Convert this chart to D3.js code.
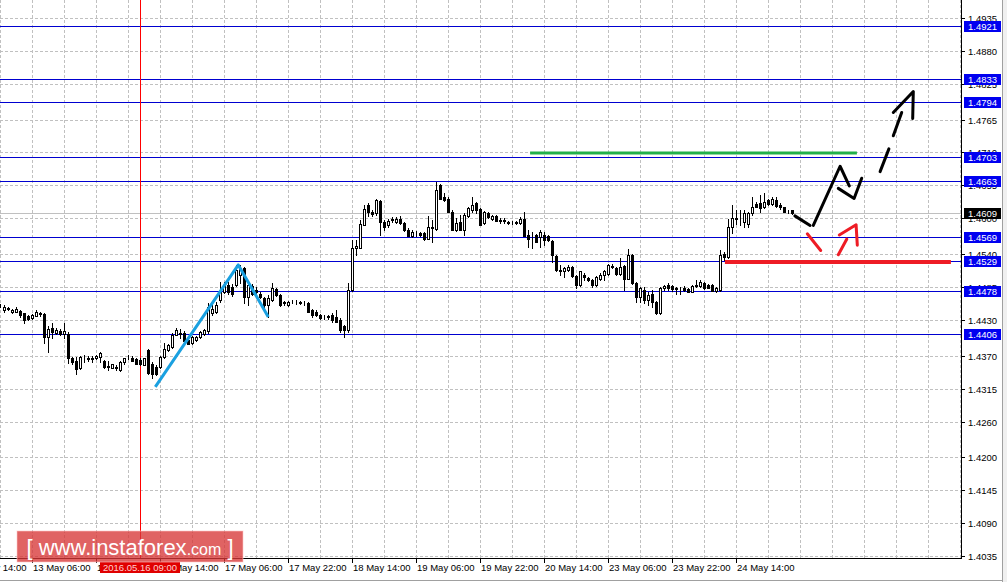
<!DOCTYPE html>
<html><head><meta charset="utf-8">
<script src="https://cdn.jsdelivr.net/npm/d3@7"></script>
<style>html,body{margin:0;padding:0;background:#fff;overflow:hidden}svg{display:block}</style>
</head><body><svg id="c" width="1007" height="582"></svg>
<script>
// ---- DATA (H1 candles, bar index 0 = 12 May 22:00) ----
const opens = [1.4454,1.4447,1.4448,1.4443,1.4444,1.4445,1.4441,1.4436,1.4433,1.4437,1.4440,1.4440,1.4402,1.4417,1.4408,1.4412,1.4407,1.4406,1.4367,1.4362,1.4350,1.4365,1.4365,1.4366,1.4366,1.4368,1.4361,1.4353,1.4350,1.4351,1.4346,1.4359,1.4368,1.4367,1.4364,1.4363,1.4355,1.4380,1.4357,1.4352,1.4352,1.4368,1.4380,1.4385,1.4405,1.4408,1.4408,1.4397,1.4391,1.4396,1.4402,1.4407,1.4411,1.4441,1.4444,1.4463,1.4477,1.4488,1.4485,1.4488,1.4505,1.4516,1.4469,1.4486,1.4480,1.4474,1.4466,1.4455,1.4463,1.4481,1.4472,1.4459,1.4455,1.4461,1.4460,1.4460,1.4458,1.4458,1.4447,1.4444,1.4438,1.4435,1.4435,1.4438,1.4435,1.4430,1.4419,1.4413,1.4480,1.4550,1.4550,1.4589,1.4622,1.4611,1.4608,1.4629,1.4593,1.4588,1.4597,1.4594,1.4599,1.4592,1.4581,1.4571,1.4575,1.4575,1.4575,1.4566,1.4583,1.4582,1.4655,1.4636,1.4633,1.4611,1.4580,1.4594,1.4580,1.4603,1.4614,1.4625,1.4615,1.4592,1.4609,1.4599,1.4603,1.4596,1.4597,1.4594,1.4593,1.4594,1.4592,1.4598,1.4572,1.4569,1.4572,1.4569,1.4572,1.4570,1.4562,1.4537,1.4511,1.4511,1.4513,1.4519,1.4503,1.4488,1.4505,1.4500,1.4497,1.4488,1.4499,1.4505,1.4507,1.4519,1.4517,1.4506,1.4520,1.4499,1.4538,1.4491,1.4469,1.4480,1.4463,1.4473,1.4460,1.4442,1.4483,1.4488,1.4487,1.4483,1.4482,1.4484,1.4482,1.4477,1.4488,1.4487,1.4491,1.4488,1.4488,1.4479,1.4480,1.4540,1.4535,1.4585,1.4598,1.4601,1.4594,1.4591,1.4608,1.4624,1.4625,1.4619,1.4630,1.4624,1.4631,1.4622,1.4618,1.4613,1.4613];
const highs = [1.4456,1.4455,1.4452,1.4448,1.4452,1.4447,1.4442,1.4438,1.4440,1.4446,1.4444,1.4441,1.4419,1.4424,1.4416,1.4414,1.4424,1.4410,1.4368,1.4368,1.4370,1.4371,1.4369,1.4370,1.4371,1.4377,1.4363,1.4362,1.4357,1.4355,1.4361,1.4367,1.4371,1.4369,1.4366,1.4366,1.4367,1.4382,1.4360,1.4355,1.4370,1.4391,1.4390,1.4408,1.4416,1.4415,1.4411,1.4398,1.4403,1.4403,1.4412,1.4415,1.4458,1.4455,1.4460,1.4494,1.4493,1.4494,1.4490,1.4522,1.4522,1.4518,1.4494,1.4490,1.4485,1.4477,1.4468,1.4472,1.4491,1.4483,1.4474,1.4462,1.4462,1.4464,1.4463,1.4462,1.4461,1.4460,1.4449,1.4446,1.4440,1.4438,1.4438,1.4441,1.4447,1.4433,1.4421,1.4491,1.4564,1.4564,1.4597,1.4622,1.4625,1.4613,1.4633,1.4630,1.4597,1.4598,1.4602,1.4602,1.4604,1.4594,1.4583,1.4580,1.4578,1.4577,1.4577,1.4603,1.4597,1.4661,1.4658,1.4643,1.4636,1.4614,1.4600,1.4605,1.4608,1.4619,1.4636,1.4628,1.4617,1.4612,1.4611,1.4606,1.4605,1.4600,1.4600,1.4596,1.4595,1.4596,1.4602,1.4611,1.4581,1.4577,1.4574,1.4580,1.4577,1.4572,1.4564,1.4538,1.4522,1.4519,1.4522,1.4520,1.4505,1.4512,1.4508,1.4502,1.4499,1.4503,1.4508,1.4513,1.4523,1.4523,1.4519,1.4533,1.4522,1.4548,1.4540,1.4493,1.4485,1.4485,1.4477,1.4480,1.4462,1.4485,1.4488,1.4491,1.4489,1.4485,1.4485,1.4486,1.4484,1.4488,1.4497,1.4497,1.4493,1.4490,1.4490,1.4485,1.4547,1.4544,1.4599,1.4622,1.4614,1.4613,1.4614,1.4611,1.4636,1.4628,1.4639,1.4642,1.4632,1.4636,1.4635,1.4625,1.4619,1.4614,1.4614];
const lows = [1.4452,1.4444,1.4446,1.4442,1.4443,1.4435,1.4424,1.4429,1.4432,1.4436,1.4436,1.4391,1.4377,1.4399,1.4406,1.4404,1.4399,1.4358,1.4357,1.4340,1.4348,1.4360,1.4361,1.4360,1.4364,1.4360,1.4350,1.4346,1.4349,1.4346,1.4345,1.4357,1.4365,1.4361,1.4356,1.4355,1.4354,1.4340,1.4332,1.4338,1.4350,1.4366,1.4378,1.4383,1.4404,1.4400,1.4393,1.4389,1.4389,1.4394,1.4400,1.4405,1.4408,1.4438,1.4442,1.4460,1.4475,1.4474,1.4470,1.4486,1.4491,1.4458,1.4455,1.4472,1.4474,1.4466,1.4452,1.4435,1.4462,1.4470,1.4453,1.4455,1.4453,1.4458,1.4457,1.4457,1.4455,1.4443,1.4435,1.4437,1.4432,1.4432,1.4432,1.4427,1.4427,1.4410,1.4402,1.4410,1.4478,1.4539,1.4550,1.4589,1.4603,1.4604,1.4605,1.4572,1.4580,1.4585,1.4594,1.4592,1.4591,1.4578,1.4570,1.4569,1.4570,1.4571,1.4564,1.4565,1.4561,1.4581,1.4632,1.4629,1.4611,1.4580,1.4578,1.4580,1.4572,1.4602,1.4611,1.4608,1.4589,1.4590,1.4601,1.4597,1.4596,1.4592,1.4592,1.4591,1.4591,1.4590,1.4590,1.4570,1.4552,1.4550,1.4561,1.4552,1.4555,1.4562,1.4527,1.4511,1.4505,1.4502,1.4511,1.4502,1.4483,1.4487,1.4497,1.4495,1.4485,1.4487,1.4497,1.4497,1.4505,1.4516,1.4505,1.4505,1.4480,1.4498,1.4490,1.4460,1.4460,1.4458,1.4455,1.4452,1.4440,1.4440,1.4480,1.4480,1.4479,1.4473,1.4473,1.4479,1.4476,1.4476,1.4485,1.4485,1.4482,1.4483,1.4478,1.4477,1.4478,1.4530,1.4533,1.4576,1.4591,1.4589,1.4586,1.4586,1.4605,1.4619,1.4611,1.4617,1.4623,1.4622,1.4619,1.4616,1.4611,1.4609,1.4607];
const closes = [1.4454,1.4452,1.4450,1.4447,1.4449,1.4438,1.4430,1.4431,1.4438,1.4444,1.4441,1.4402,1.4415,1.4409,1.4413,1.4406,1.4411,1.4366,1.4359,1.4348,1.4368,1.4364,1.4366,1.4364,1.4370,1.4375,1.4352,1.4352,1.4356,1.4350,1.4360,1.4366,1.4368,1.4362,1.4357,1.4356,1.4366,1.4341,1.4340,1.4340,1.4368,1.4382,1.4388,1.4405,1.4413,1.4407,1.4394,1.4390,1.4402,1.4402,1.4410,1.4413,1.4452,1.4449,1.4455,1.4477,1.4488,1.4477,1.4474,1.4513,1.4516,1.4469,1.4488,1.4474,1.4477,1.4469,1.4455,1.4466,1.4483,1.4472,1.4455,1.4460,1.4460,1.4462,1.4460,1.4458,1.4458,1.4444,1.4438,1.4438,1.4433,1.4435,1.4436,1.4430,1.4427,1.4413,1.4413,1.4480,1.4550,1.4553,1.4591,1.4615,1.4611,1.4607,1.4630,1.4593,1.4586,1.4596,1.4598,1.4598,1.4592,1.4580,1.4571,1.4577,1.4576,1.4572,1.4565,1.4585,1.4585,1.4647,1.4633,1.4631,1.4611,1.4580,1.4592,1.4580,1.4605,1.4617,1.4622,1.4614,1.4589,1.4611,1.4602,1.4604,1.4596,1.4597,1.4596,1.4592,1.4593,1.4592,1.4599,1.4570,1.4566,1.4568,1.4561,1.4577,1.4564,1.4564,1.4538,1.4513,1.4514,1.4516,1.4519,1.4503,1.4488,1.4511,1.4502,1.4497,1.4488,1.4502,1.4505,1.4511,1.4522,1.4520,1.4506,1.4519,1.4499,1.4538,1.4491,1.4469,1.4483,1.4463,1.4472,1.4460,1.4442,1.4483,1.4487,1.4483,1.4481,1.4482,1.4481,1.4480,1.4477,1.4487,1.4487,1.4494,1.4483,1.4484,1.4479,1.4484,1.4538,1.4535,1.4585,1.4600,1.4601,1.4600,1.4608,1.4608,1.4619,1.4619,1.4617,1.4628,1.4624,1.4633,1.4620,1.4618,1.4611,1.4613,1.4609];

const yTickLabels = ["1.4935","1.4880","1.4825","1.4765","1.4710","1.4655","1.4600","1.4540","1.4485","1.4430","1.4370","1.4315","1.4260","1.4200","1.4145","1.4090","1.4035"];
const xTickBars = [-8,8,24,40,56,72,88,104,120,136,152,168,184];
const xTickLabels = ["12 May 14:00","13 May 06:00","13 May 22:00","16 May 14:00","17 May 06:00","17 May 22:00","18 May 14:00","19 May 06:00","19 May 22:00","20 May 14:00","23 May 06:00","23 May 22:00","24 May 14:00"];
const levelValues = [1.4921,1.4833,1.4794,1.4703,1.4663,1.4569,1.4529,1.4478,1.4406];
const bidPrice = 1.4609;
const crossBar = 35, crossLabel = "2016.05.16 09:00";

// hand-drawn analysis lines, in [bar, price]
const blueTrend = [[38.9,1.4318],[59.65,1.4522],[67.15,1.4435]];
const greenLevel = [[132.6,1.4709],[214.3,1.4709]];
const redLevel = [[181.3,1.4527],[237.8,1.4527]];
const blackStrokes = [
  [[198.8,1.4604],[202.6,1.4588]],
  [[203.4,1.4588],[210.1,1.4687],[212.4,1.4654]],
  [[209.65,1.4650],[213.6,1.4633],[215.5,1.4667]],
  [[220.1,1.4678],[222.3,1.4716]],
  [[223.4,1.4738],[225.5,1.4777]],
  [[223.4,1.4777],[228.4,1.4812],[228.25,1.4767]]
];
const redStrokes = [
  [[201.9,1.4574],[205.25,1.4546]],
  [[209.65,1.4539],[211.75,1.4565]],
  [[209.9,1.4572],[214.1,1.4589],[214.4,1.4555]]
];

// ---- DRAW ----
const W = 1007, H = 582, plotR = 961, plotB = 558;
const svg = d3.select("#c");
const FONT = "'Liberation Sans', Arial, sans-serif";
svg.append("rect").attr("width",W).attr("height",H).attr("fill","#fff");

const x = d3.scaleLinear().domain([0,240]).range([-0.3,959.7]);
const y = d3.scaleLinear().domain([1.4035,1.4935]).range([556,18]);
const px = v => Math.round(x(v));
const py = v => Math.round(y(v));

const plot = svg.append("g");
plot.append("clipPath").attr("id","clip").append("rect").attr("x",0).attr("y",0).attr("width",plotR).attr("height",plotB);
const g = plot.append("g").attr("clip-path","url(#clip)");

// grid
const gridBars = d3.range(0,241,8);
g.selectAll(".vg").data(gridBars).enter().append("line")
  .attr("x1",d=>px(d)+0.5).attr("x2",d=>px(d)+0.5).attr("y1",0).attr("y2",plotB)
  .attr("stroke","#c0c0c0").attr("stroke-dasharray","3,2");
g.selectAll(".hg").data(yTickLabels).enter().append("line")
  .attr("x1",0).attr("x2",plotR).attr("y1",d=>py(+d)+0.5).attr("y2",d=>py(+d)+0.5)
  .attr("stroke","#c0c0c0").attr("stroke-dasharray","3,2");

// bid line
g.append("line").attr("x1",0).attr("x2",plotR).attr("y1",py(bidPrice)+0.5).attr("y2",py(bidPrice)+0.5)
  .attr("stroke","#c0c0c0");
// levels
g.selectAll(".lv").data(levelValues).enter().append("line")
  .attr("x1",0).attr("x2",plotR).attr("y1",d=>py(d)+0.5).attr("y2",d=>py(d)+0.5)
  .attr("stroke","#0000d0");

// crosshair
g.append("line").attr("x1",px(crossBar)+0.5).attr("x2",px(crossBar)+0.5).attr("y1",0).attr("y2",plotB)
  .attr("stroke","#ff0000");

// candles
const idx = d3.range(opens.length);
const cg = g.append("g");
cg.selectAll(".wk").data(idx).enter().append("line")
  .attr("x1",i=>px(i)+0.5).attr("x2",i=>px(i)+0.5)
  .attr("y1",i=>py(highs[i])).attr("y2",i=>py(lows[i])+1)
  .attr("stroke","#000");
cg.selectAll(".bd").data(idx).enter().append("rect")
  .attr("x",i=>px(i)-0.5)
  .attr("y",i=>py(Math.max(opens[i],closes[i]))+0.5)
  .attr("width",2)
  .attr("height",i=>Math.max(0,py(Math.min(opens[i],closes[i]))-py(Math.max(opens[i],closes[i]))))
  .attr("fill",i=>closes[i]>=opens[i]?"#fff":"#000")
  .attr("stroke","#000").attr("stroke-width",1);

// drawings
const line = d3.line().x(d=>x(d[0])).y(d=>y(d[1]));
g.append("path").attr("d",line(blueTrend)).attr("fill","none").attr("stroke","#1aa0e0").attr("stroke-width",3).attr("stroke-linejoin","round");
g.append("path").attr("d",line(greenLevel)).attr("fill","none").attr("stroke","#22b04a").attr("stroke-width",3);
g.append("path").attr("d",line(redLevel)).attr("fill","none").attr("stroke","#ee1c25").attr("stroke-width",4);
blackStrokes.forEach(s=>g.append("path").attr("d",line(s)).attr("fill","none").attr("stroke","#000").attr("stroke-width",3).attr("stroke-linejoin","round").attr("stroke-linecap","round"));
redStrokes.forEach(s=>g.append("path").attr("d",line(s)).attr("fill","none").attr("stroke","#ee1c25").attr("stroke-width",3).attr("stroke-linejoin","round").attr("stroke-linecap","round"));

// axes frame
svg.append("line").attr("x1",plotR+0.5).attr("x2",plotR+0.5).attr("y1",0).attr("y2",plotB+1).attr("stroke","#000");
svg.append("line").attr("x1",0).attr("x2",plotR+1).attr("y1",plotB+0.5).attr("y2",plotB+0.5).attr("stroke","#000");

// y ticks
svg.selectAll(".yt").data(yTickLabels).enter().append("line")
  .attr("x1",plotR).attr("x2",plotR+4).attr("y1",d=>py(+d)+0.5).attr("y2",d=>py(+d)+0.5).attr("stroke","#000");
svg.selectAll(".yl").data(yTickLabels).enter().append("text")
  .attr("x",968).attr("y",d=>py(+d)+4).text(d=>d)
  .attr("font-family",FONT).attr("font-size","9.5px").attr("fill","#000");

// level labels
const lab = svg.selectAll(".lb").data(levelValues).enter().append("g");
lab.append("rect").attr("x",964).attr("y",d=>py(d)-5).attr("width",37).attr("height",11).attr("fill","#0000f0");
lab.append("text").attr("x",982.5).attr("y",d=>py(d)+4).attr("text-anchor","middle").text(d=>d.toFixed(4))
  .attr("font-family",FONT).attr("font-size","9.5px").attr("fill","#fff");
svg.append("rect").attr("x",964).attr("y",py(bidPrice)-5).attr("width",37).attr("height",11).attr("fill","#000");
svg.append("text").attr("x",982.5).attr("y",py(bidPrice)+4).attr("text-anchor","middle").text(bidPrice.toFixed(4))
  .attr("font-family",FONT).attr("font-size","9.5px").attr("fill","#fff");

// x ticks
svg.selectAll(".xt").data(xTickBars).enter().append("line")
  .attr("x1",d=>px(d)+0.5).attr("x2",d=>px(d)+0.5).attr("y1",plotB).attr("y2",plotB+5).attr("stroke","#000");
svg.selectAll(".xl").data(xTickBars).enter().append("text")
  .attr("x",d=>px(d)+1).attr("y",571).text((d,i)=>xTickLabels[i])
  .attr("font-family",FONT).attr("font-size","9.5px").attr("fill","#000");
// crosshair time label
svg.append("rect").attr("x",px(crossBar)-40).attr("y",562).attr("width",80).attr("height",11).attr("fill","#e00000");
svg.append("text").attr("x",px(crossBar)).attr("y",571).attr("text-anchor","middle").text(crossLabel)
  .attr("font-family",FONT).attr("font-size","9.5px").attr("fill","#ffd0d0");

// watermark
const wm = svg.append("g");
wm.append("rect").attr("x",17).attr("y",531).attr("width",226).attr("height",31).attr("fill","rgba(215,55,55,0.78)").attr("stroke","rgba(255,200,200,0.6)");
const wt = wm.append("text").attr("x",130).attr("y",555).attr("text-anchor","middle").attr("fill","#fff").attr("font-family",FONT);
wt.append("tspan").attr("font-size","22px").text("[ www.instaforex");
wt.append("tspan").attr("font-size","16px").text(".com");
wt.append("tspan").attr("font-size","22px").text(" ]");

// window frame
svg.append("line").attr("x1",0).attr("x2",1002).attr("y1",580.5).attr("y2",580.5).attr("stroke","#a0a0a0");
svg.append("rect").attr("x",1002).attr("y",0).attr("width",5).attr("height",582).attr("fill","#f0f0f0");
svg.append("line").attr("x1",1002.5).attr("x2",1002.5).attr("y1",0).attr("y2",582).attr("stroke","#a0a0a0");
</script></body></html>
